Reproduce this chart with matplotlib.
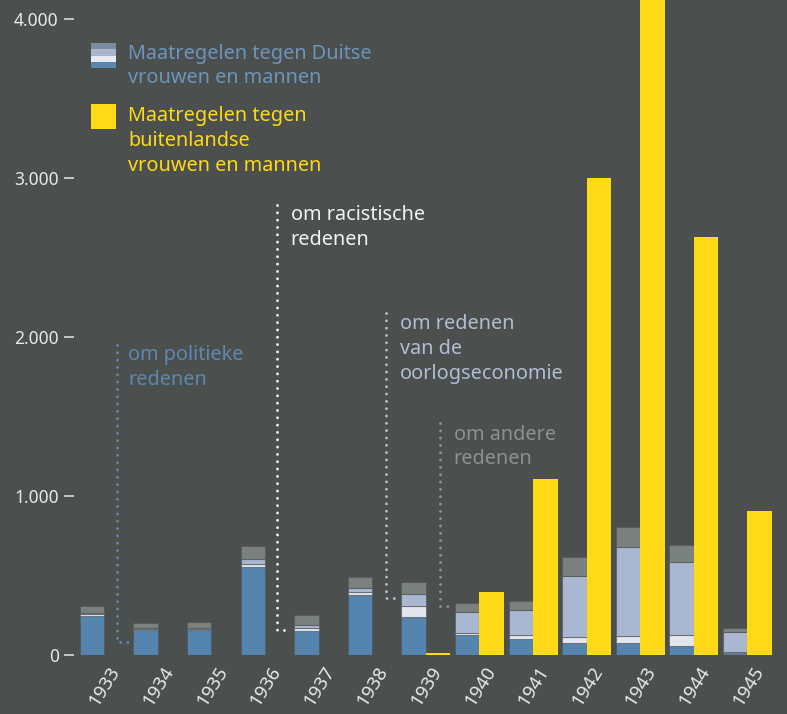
import matplotlib
matplotlib.use("Agg")
import matplotlib.pyplot as plt
from matplotlib.patches import Rectangle
import numpy as np

plt.rcParams['font.family'] = ['Noto Sans', 'DejaVu Sans']

# ---- data ----
years = [1933, 1934, 1935, 1936, 1937, 1938, 1939, 1940, 1941, 1942, 1943, 1944, 1945]
politiek = [247, 157, 159, 555, 151, 377, 241, 128, 101, 77, 74, 57, 13]
racistisch = [9, 5, 6, 19, 21, 19, 69, 13, 27, 36, 48, 69, 8]
oorlogseconomie = [10, 10, 4, 30, 17, 23, 74, 130, 155, 384, 558, 459, 124]
anders = [42, 28, 38, 82, 61, 69, 74, 55, 55, 118, 126, 107, 27]
buitenland = [np.nan, np.nan, np.nan, np.nan, np.nan, np.nan, 10, 398, 1107, 3000, 4300, 2629, 906]
yticks = [0, 1000, 2000, 3000, 4000]
ytick_labels = ['0', '1.000', '2.000', '3.000', '4.000']

# ---- style ----
BG = '#4b504f'
C_POL = '#5585ae'
C_RAC = '#e3e5ef'
C_OOR = '#a9b8d0'
C_AND = '#7b817f'
C_YEL = '#fed916'
EDGE = (0.30, 0.33, 0.33, 0.55)
FS = 14.3

W, H = 787, 714
fig = plt.figure(figsize=(W / 100, H / 100), dpi=100, facecolor=BG)
ax = fig.add_axes([74 / W, 59 / H, 713 / W, 655 / H])
ax.set_facecolor(BG)

x = np.arange(len(years))
w = 0.457
pol = np.array(politiek); rac = np.array(racistisch)
oor = np.array(oorlogseconomie); andr = np.array(anders)

ax.bar(x, pol, w, color=C_POL, edgecolor=EDGE, linewidth=0.8)
ax.bar(x, rac, w, bottom=pol, color=C_RAC, edgecolor=EDGE, linewidth=0.8)
ax.bar(x, oor, w, bottom=pol + rac, color=C_OOR, edgecolor=EDGE, linewidth=0.8)
ax.bar(x, andr, w, bottom=pol + rac + oor, color=C_AND, edgecolor=EDGE, linewidth=0.8)
ax.bar(x + w, buitenland, w, color=C_YEL, linewidth=0)

ax.set_xlim(-0.336, 12.966)
ax.set_ylim(0, 4119)
for s in ax.spines.values():
    s.set_visible(False)

ax.set_yticks(yticks)
ax.set_yticklabels(ytick_labels)
ax.tick_params(axis='y', length=7, width=1.2, color='#d8d8d8', labelcolor='#e8e8e8',
               labelsize=12.5, pad=4)
ax.set_xticks(x + w / 2 + 0.08)
ax.set_xticklabels([str(y) for y in years], rotation=58, ha='right', rotation_mode='anchor')
ax.tick_params(axis='x', length=0, labelcolor='#e8e8e8', labelsize=13.5, pad=6)

# ---- annotations (dotted leader lines) ----
annots = [
    ('om politieke\nredenen', '#5e87ad', 0.466, 1950, 84, 0.69, 0.67, 1808),
    ('om racistische\nredenen', '#f2f2f2', 3.45, 2830, 157, 3.71, 3.71, 2691),
    ('om redenen\nvan de\noorlogseconomie', '#b0bdd3', 5.485, 2151, 358, 5.746, 5.746, 1924),
    ('om andere\nredenen', '#8b918f', 6.49, 1459, 308, 6.75, 6.75, 1308),
]
for txt, col, lx, ytop, ybot, hx, tx, ty in annots:
    ax.plot([lx, lx, hx], [ytop, ybot, ybot], color=col, lw=2.1,
            linestyle=(0, (0.01, 2.5)), dash_capstyle='round', solid_capstyle='round')
    ax.text(tx, ty, txt, color=col, fontsize=FS, ha='left', va='center', linespacing=1.33)

# ---- legend ----
def fx(px):
    return px / W

def fy(py):
    return 1 - py / H

stripes = ['#7b8ba0', '#a8b5cc', '#e8eaf2', '#5a87b0']
sx0, sx1, sy0, sy1 = 91, 116, 43, 68
sh = (sy1 - sy0) / 4
for i, c in enumerate(stripes):
    top = sy0 + i * sh
    fig.add_artist(Rectangle((fx(sx0), fy(top + sh)), fx(sx1 - sx0), sh / H,
                             transform=fig.transFigure, color=c, lw=0))
fig.add_artist(Rectangle((fx(91), fy(129)), fx(25), 25 / H,
                         transform=fig.transFigure, color=C_YEL, lw=0))
fig.text(fx(128), fy(66), 'Maatregelen tegen Duitse\nvrouwen en mannen', color='#6f93b8',
         fontsize=FS, ha='left', va='center', linespacing=1.33)
fig.text(fx(128), fy(141), 'Maatregelen tegen\nbuitenlandse\nvrouwen en mannen', color=C_YEL,
         fontsize=FS, ha='left', va='center', linespacing=1.33)

fig.savefig('out.png', dpi=100, facecolor=BG)
